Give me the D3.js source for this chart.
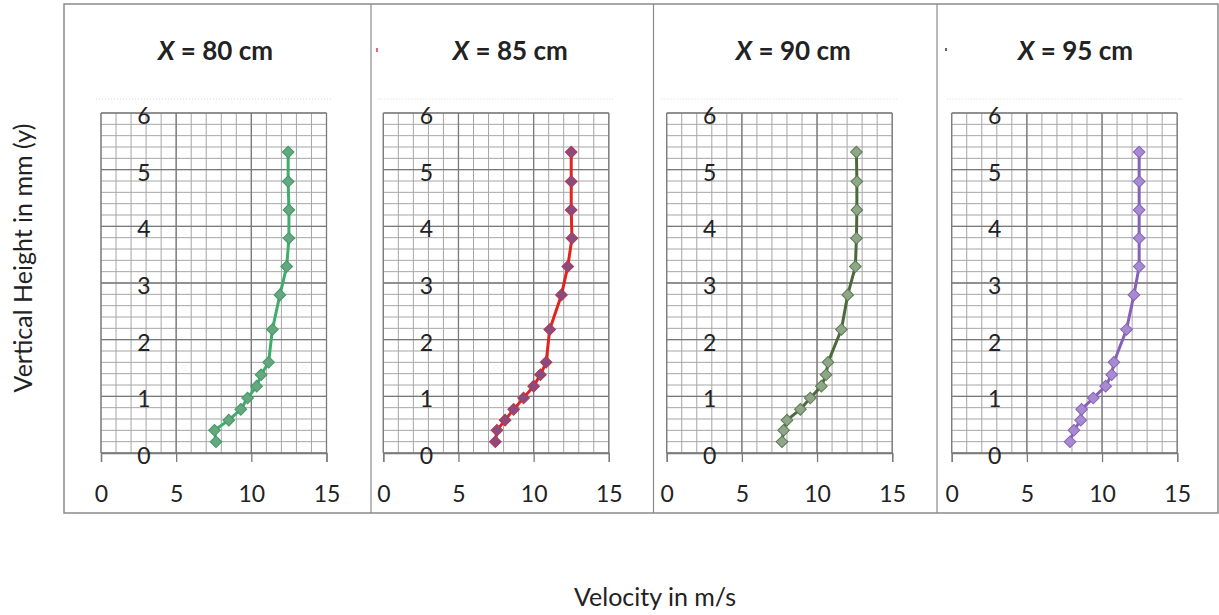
<!DOCTYPE html>
<html>
<head>
<meta charset="utf-8">
<script src="https://cdn.jsdelivr.net/npm/d3@7"></script>
<style>
  body { margin: 0; background: #fff; }
  text { font-family: Lato, "Open Sans", sans-serif; fill: #222; }
</style>
</head>
<body>
<script>
// panel titles (x position along the channel)
var panels = ["80", "85", "90", "95"];

// vertical height in mm, shared by all four profiles
var heights = [0.2, 0.4, 0.58, 0.77, 0.97, 1.18, 1.38, 1.6, 2.18, 2.79, 3.29, 3.79, 4.29, 4.79, 5.31];

// velocity in m/s for each profile
var vel80 = [7.65, 7.55, 8.5, 9.3, 9.75, 10.35, 10.65, 11.15, 11.4, 11.9, 12.35, 12.5, 12.5, 12.45, 12.45];
var vel85 = [7.45, 7.56, 8.1, 8.67, 9.33, 10.0, 10.45, 10.83, 11.07, 11.85, 12.27, 12.55, 12.5, 12.5, 12.5];
var vel90 = [7.67, 7.78, 8.0, 8.89, 9.55, 10.29, 10.6, 10.73, 11.62, 12.04, 12.55, 12.62, 12.65, 12.65, 12.62];
var vel95 = [7.87, 8.13, 8.58, 8.64, 9.42, 10.24, 10.64, 10.79, 11.63, 12.12, 12.47, 12.47, 12.47, 12.47, 12.47];

var xTicks = [0, 5, 10, 15];
var yTicks = [0, 1, 2, 3, 4, 5, 6];

var series = [vel80, vel85, vel90, vel95];

// styles per panel: line colour, marker fill, marker outline
var lineColor = ["#3fae6c", "#e3231c", "#4b6a3a", "#8860b8"];
var markFill = ["#67a67e", "#8c4a7e", "#8ea78a", "#a88ad2"];
var markStroke = ["#3c9c66", "#b2394f", "#5c7a50", "#8664b6"];

var width = 1219;
var height = 615;

var svg = d3.select("body").append("svg")
    .attr("width", width)
    .attr("height", height);

// layout
var plotLeft = [101, 383.3, 666.7, 951.7];
var plotW = 225.5;
var plotTop = 113;
var plotBottom = 453;
var frameL = 64, frameR = 1218, frameT = 4, frameB = 513;
var dividers = [371, 653.5, 937];
var cellLeft = [frameL].concat(dividers);
var cellRight = dividers.concat([frameR]);

// outer frame + dividers
svg.append("rect")
    .attr("x", frameL).attr("y", frameT)
    .attr("width", frameR - frameL).attr("height", frameB - frameT)
    .attr("fill", "none")
    .attr("stroke", "#8a8a8a")
    .attr("stroke-width", 1.5);

svg.selectAll(".divider")
    .data(dividers)
    .enter().append("line")
    .attr("class", "divider")
    .attr("x1", function(d) { return d; })
    .attr("x2", function(d) { return d; })
    .attr("y1", frameT).attr("y2", frameB)
    .attr("stroke", "#8a8a8a")
    .attr("stroke-width", 1.2);

var y = d3.scaleLinear().domain([0, 6]).range([plotBottom, plotTop]);

series.forEach(function(vals, p) {
    var x = d3.scaleLinear().domain([0, 15]).range([plotLeft[p], plotLeft[p] + plotW]);
    var g = svg.append("g");

    // faint dotted plot-area border above grid
    g.append("line")
        .attr("x1", x(0) - 5).attr("x2", x(15) + 5)
        .attr("y1", plotTop - 14).attr("y2", plotTop - 14)
        .attr("stroke", "#d8d8d8")
        .attr("stroke-dasharray", "1,2");

    // minor grid
    g.selectAll(".vminor")
        .data(d3.range(0, 16))
        .enter().append("line")
        .attr("x1", function(d) { return x(d); })
        .attr("x2", function(d) { return x(d); })
        .attr("y1", y(0)).attr("y2", y(6))
        .attr("stroke", "#a6a6a6")
        .attr("stroke-width", 1);

    g.selectAll(".hminor")
        .data(d3.range(0, 31).map(function(i) { return i * 0.2; }))
        .enter().append("line")
        .attr("x1", x(0)).attr("x2", x(15))
        .attr("y1", function(d) { return y(d); })
        .attr("y2", function(d) { return y(d); })
        .attr("stroke", "#a6a6a6")
        .attr("stroke-width", 1);

    // major grid
    g.selectAll(".vmajor")
        .data(xTicks)
        .enter().append("line")
        .attr("x1", function(d) { return x(d); })
        .attr("x2", function(d) { return x(d); })
        .attr("y1", y(0)).attr("y2", y(6))
        .attr("stroke", "#7a7a7a")
        .attr("stroke-width", 1.3);

    g.selectAll(".hmajor")
        .data(yTicks)
        .enter().append("line")
        .attr("x1", x(0)).attr("x2", x(15))
        .attr("y1", function(d) { return y(d); })
        .attr("y2", function(d) { return y(d); })
        .attr("stroke", "#7a7a7a")
        .attr("stroke-width", 1.3);

    // x axis with ticks pointing down
    var xAxis = d3.axisBottom(x).tickValues(xTicks).tickSize(9).tickPadding(24).tickFormat(d3.format("d"));
    var ax = g.append("g")
        .attr("transform", "translate(0," + plotBottom + ")")
        .call(xAxis);
    ax.select(".domain").attr("stroke", "#7a7a7a").attr("stroke-width", 1.3);
    ax.selectAll(".tick line").attr("stroke", "#7a7a7a").attr("stroke-width", 1.3);
    ax.selectAll(".tick text")
        .style("font-size", "23px")
        .style("font-family", "Lato, sans-serif")
        .attr("fill", "#222");

    // y labels sit inside the grid
    g.selectAll(".ylab")
        .data(yTicks)
        .enter().append("text")
        .attr("x", plotLeft[p] + 43)
        .attr("y", function(d) { return y(d) + 11; })
        .attr("text-anchor", "middle")
        .style("font-size", "23px")
        .text(function(d) { return d; });

    // profile line
    var pts = vals.map(function(v, i) { return [v, heights[i]]; });
    var line = d3.line()
        .x(function(d) { return x(d[0]); })
        .y(function(d) { return y(d[1]); });

    g.append("path")
        .datum(pts)
        .attr("d", line)
        .attr("fill", "none")
        .attr("stroke", lineColor[p])
        .attr("stroke-width", 3)
        .attr("stroke-linejoin", "round");

    // diamond markers
    var sym = d3.symbol().type(d3.symbolSquare).size(68);
    g.selectAll(".mark")
        .data(pts)
        .enter().append("path")
        .attr("d", sym)
        .attr("transform", function(d) {
            return "translate(" + x(d[0]) + "," + y(d[1]) + ") rotate(45)";
        })
        .attr("fill", markFill[p])
        .attr("stroke", markStroke[p])
        .attr("stroke-width", 1);

    // title
    var title = g.append("text")
        .attr("x", (cellLeft[p] + cellRight[p]) / 2 - 2)
        .attr("y", 60)
        .attr("text-anchor", "middle")
        .style("font-size", "26px")
        .style("font-weight", "bold");
    title.append("tspan").style("font-style", "italic").text("X");
    title.append("tspan").text(" = " + panels[p] + " cm");
});

// leftover legend specks
svg.append("rect").attr("x", 376).attr("y", 48).attr("width", 2).attr("height", 4).attr("fill", "#e36a6a");
svg.append("rect").attr("x", 945).attr("y", 48).attr("width", 2).attr("height", 3).attr("fill", "#6a5a8a");

// axis titles
svg.append("text")
    .attr("x", 655)
    .attr("y", 606)
    .attr("text-anchor", "middle")
    .style("font-size", "25px")
    .text("Velocity in m/s");

svg.append("text")
    .attr("transform", "translate(32,258) rotate(-90)")
    .attr("text-anchor", "middle")
    .style("font-size", "25px")
    .text("Vertical Height in mm (y)");
</script>
</body>
</html>
